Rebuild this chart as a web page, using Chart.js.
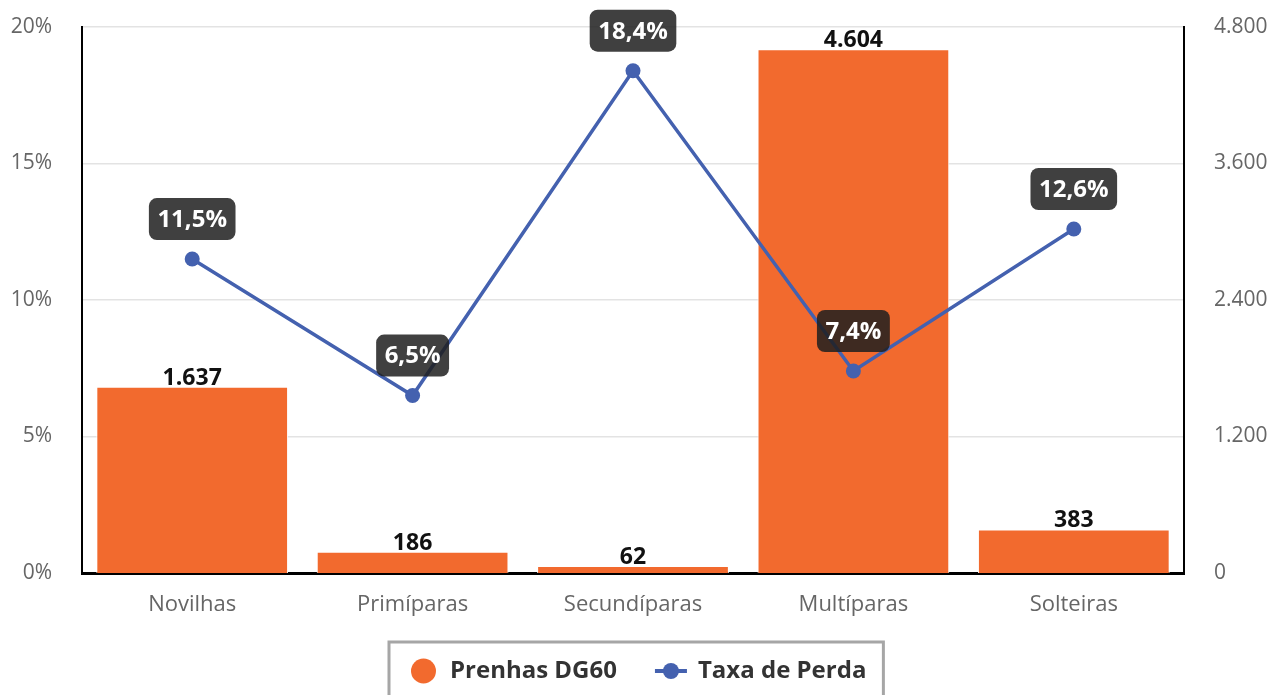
<!DOCTYPE html>
<html>
<head>
<meta charset="utf-8">
<script src="https://cdn.jsdelivr.net/npm/chart.js@4/dist/chart.umd.min.js"></script>
<style>
  html, body { margin: 0; padding: 0; background: #fff; }
  #wrap { width: 1272px; height: 695px; position: relative; }
</style>
</head>
<body>
<div id="wrap"><canvas id="mainChart"></canvas></div>
<script>
// 数据
const categories = ['Novilhas', 'Primíparas', 'Secundíparas', 'Multíparas', 'Solteiras'];
const prenhasValues = [1637, 186, 62, 4604, 383];
const taxaValues = [11.5, 6.5, 18.4, 7.4, 12.6];
const leftTicks = [0, 5, 10, 15, 20];
const rightTicks = [0, 1200, 2400, 3600, 4800];
const seriesNames = ['Prenhas DG60', 'Taxa de Perda'];

const orange = '#F26A2E';
const blue = '#4461AF';
const fontFamily = '"Open Sans", "Noto Sans", sans-serif';

function fmtThousands(v) {
    return String(v).replace(/\B(?=(\d{3})+(?!\d))/g, '.');
}

// 数据标签 + 图例插件
const labelsPlugin = {
    id: 'valueLabels',
    afterDatasetsDraw(chart) {
        const ctx = chart.ctx;
        ctx.save();
        // 柱状图标签
        const barMeta = chart.getDatasetMeta(1);
        ctx.font = 'bold 23px ' + fontFamily;
        ctx.fillStyle = '#111';
        ctx.textAlign = 'center';
        ctx.textBaseline = 'bottom';
        barMeta.data.forEach((bar, i) => {
            ctx.fillText(fmtThousands(prenhasValues[i]), bar.x, bar.y + 3);
        });
        // 折线标签
        const lineMeta = chart.getDatasetMeta(0);
        ctx.font = 'bold 24px ' + fontFamily;
        ctx.textBaseline = 'middle';
        lineMeta.data.forEach((pt, i) => {
            const txt = taxaValues[i].toFixed(1).replace('.', ',') + '%';
            const w = ctx.measureText(txt).width + 17;
            const h = 42;
            const cx = pt.x, cy = pt.y - 40;
            ctx.fillStyle = 'rgba(30,30,30,0.85)';
            ctx.beginPath();
            ctx.roundRect(cx - w / 2, cy - h / 2, w, h, 8);
            ctx.fill();
            ctx.fillStyle = '#fff';
            ctx.fillText(txt, cx, cy + 1);
        });
        ctx.restore();
    },
    afterDraw(chart) {
        // 自定义图例
        const ctx = chart.ctx;
        ctx.save();
        ctx.font = 'bold 24px ' + fontFamily;
        const w1 = ctx.measureText(seriesNames[0]).width;
        const w2 = ctx.measureText(seriesNames[1]).width;
        const circleW = 25, lineW = 32, gapIcon = 14, gapItem = 38, padL = 22, padR = 17;
        const total = padL + circleW + gapIcon + w1 + gapItem + lineW + gapIcon - 3 + w2 + padR;
        const x0 = Math.round(chart.width / 2 - total / 2);
        const cy = 671;
        ctx.strokeStyle = '#a6a6a6';
        ctx.lineWidth = 3;
        ctx.strokeRect(x0, cy - 29, total, chart.height + 20 - (cy - 29));
        let x = x0 + padL;
        ctx.fillStyle = orange;
        ctx.beginPath(); ctx.arc(x + circleW / 2, cy, circleW / 2, 0, Math.PI * 2); ctx.fill();
        x += circleW + gapIcon;
        ctx.fillStyle = '#333';
        ctx.textBaseline = 'middle';
        ctx.textAlign = 'left';
        ctx.fillText(seriesNames[0], x, cy);
        x += w1 + gapItem;
        ctx.fillStyle = blue;
        ctx.fillRect(x, cy - 2, lineW, 4);
        ctx.beginPath(); ctx.arc(x + lineW / 2, cy, 8, 0, Math.PI * 2); ctx.fill();
        x += lineW + gapIcon - 3;
        ctx.fillStyle = '#333';
        ctx.fillText(seriesNames[1], x, cy);
        ctx.restore();
    }
};

function initChart() {
    const ctx = document.getElementById('mainChart');

    new Chart(ctx, {
        data: {
            labels: categories,
            datasets: [{
                type: 'line',
                label: seriesNames[1],
                data: taxaValues,
                yAxisID: 'yLeft',
                borderColor: blue,
                backgroundColor: blue,
                borderWidth: 3.5,
                pointRadius: 7.5,
                pointBackgroundColor: blue,
                pointBorderWidth: 0,
                tension: 0,
                order: 0
            }, {
                type: 'bar',
                label: seriesNames[0],
                data: prenhasValues,
                yAxisID: 'yRight',
                backgroundColor: orange,
                borderColor: '#fff',
                borderWidth: 1,
                categoryPercentage: 1,
                barPercentage: 0.87,
                order: 1
            }]
        },
        options: {
            responsive: true,
            maintainAspectRatio: false,
            animation: false,
            layout: { padding: { top: 27, left: 10, right: 4, bottom: 0 } },
            scales: {
                x: {
                    grid: { display: false, drawTicks: false },
                    border: { color: '#000', width: 3 },
                    ticks: { color: '#666', font: { family: fontFamily, size: 22 }, padding: 19 },
                    afterFit(axis) { axis.height = 122; axis.paddingLeft = 0; axis.paddingRight = 0; }
                },
                yLeft: {
                    position: 'left',
                    min: 0, max: 20,
                    afterBuildTicks(axis) { axis.ticks = leftTicks.map(v => ({ value: v })); },
                    afterFit(axis) { axis.width = 72; axis.paddingTop = 0; axis.paddingBottom = 0; },
                    grid: { color: '#e3e3e3', lineWidth: 1.5, drawTicks: false },
                    border: { color: '#000', width: 2 },
                    ticks: { color: '#666', font: { family: fontFamily, size: 21 }, padding: 30,
                        callback: v => v + '%' }
                },
                yRight: {
                    position: 'right',
                    min: 0, max: 4800,
                    afterBuildTicks(axis) { axis.ticks = rightTicks.map(v => ({ value: v })); },
                    afterFit(axis) { axis.width = 84; axis.paddingTop = 0; axis.paddingBottom = 0; },
                    grid: { display: false, drawTicks: false },
                    border: { color: '#000', width: 2 },
                    ticks: { color: '#666', font: { family: fontFamily, size: 21 }, padding: 30,
                        callback: v => fmtThousands(v) }
                }
            },
            plugins: {
                tooltip: { enabled: false },
                legend: { display: false }
            }
        },
        plugins: [labelsPlugin]
    });
}

document.addEventListener('DOMContentLoaded', function() {
    initChart();
});
</script>
</body>
</html>
